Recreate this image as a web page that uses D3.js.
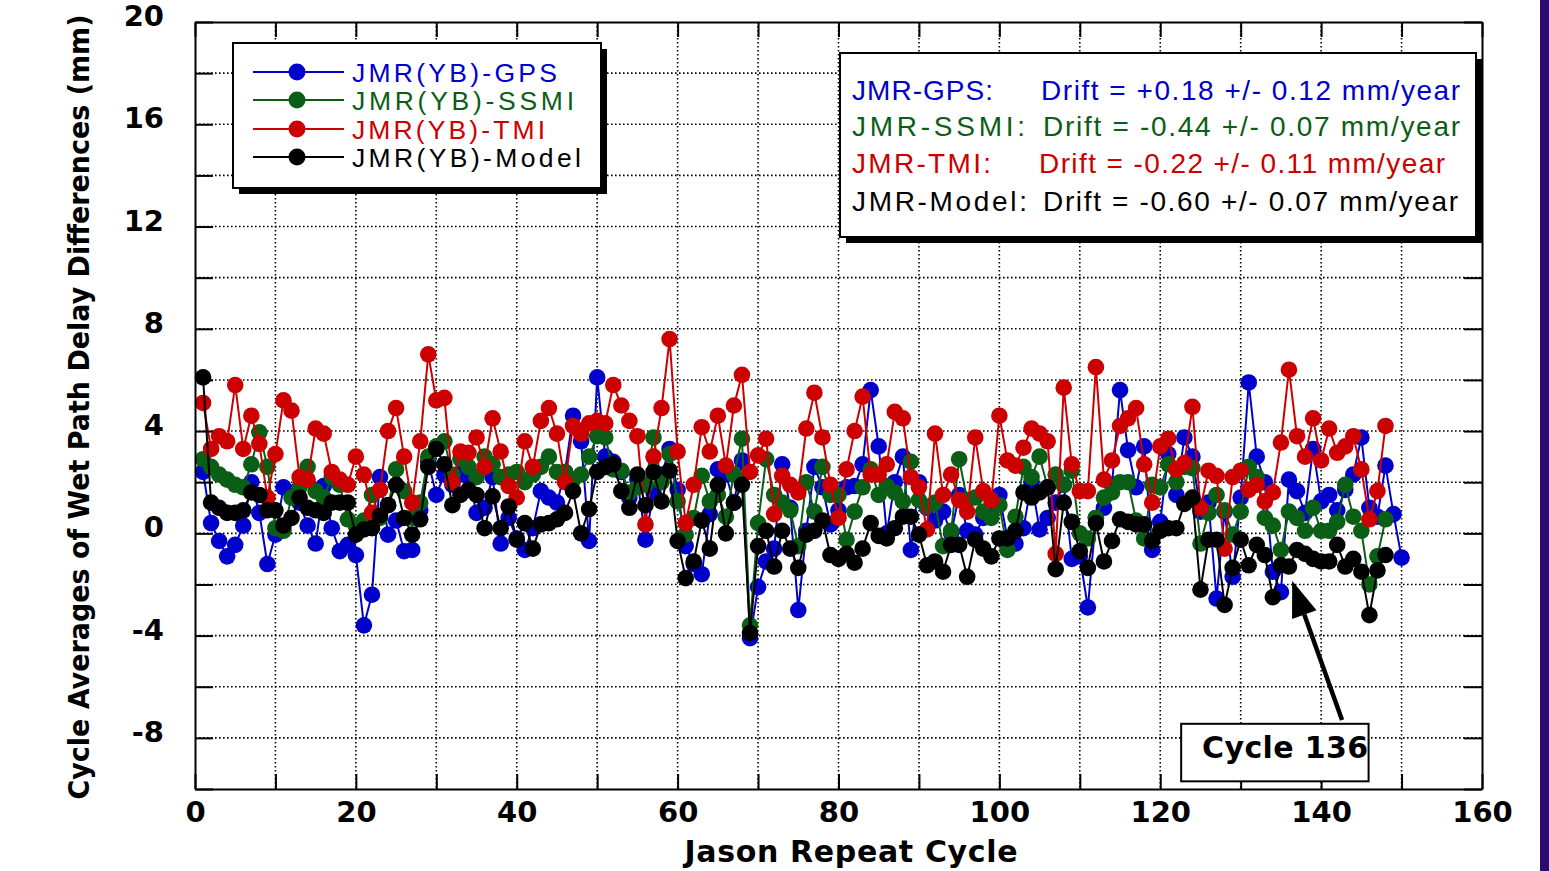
<!DOCTYPE html>
<html>
<head>
<meta charset="utf-8">
<style>
  body { margin: 0; background: #fff; }
  svg { display: block; }
</style>
</head>
<body>
<script src="https://cdn.jsdelivr.net/npm/d3@7"></script>
<script>
// cycle averages, first value = cycle 1
const gps = [2.4,0.4,-0.3,-0.9,-0.45,0.3,2.0,0.8,-1.2,-0.05,
  1.8,1.6,1.2,0.3,-0.4,1.85,0.2,-0.7,-0.45,-0.85,
  -3.6,-2.4,2.2,-0.05,0.5,-0.7,-0.65,0.9,2.8,1.5,
  2.3,1.9,2.3,2.2,0.8,1.0,2.2,-0.4,0.6,-0.2,
  -0.65,0.2,1.65,1.4,1.2,2.4,4.6,3.6,-0.3,6.1,
  3.0,2.8,2.4,1.4,2.1,-0.25,1.6,2.3,3.3,1.7,
  -0.5,-1.2,-1.6,0.75,2.5,2.3,1.2,2.85,-4.1,-2.1,
  -1.1,-0.6,2.7,1.0,-3.0,0.1,2.6,1.8,0.35,0.9,
  1.8,1.85,2.7,5.6,3.4,0.0,2.0,3.0,-0.65,2.0,
  1.0,0.5,0.85,0.0,1.5,0.1,-0.05,0.6,0.9,1.5,
  -0.2,-0.4,0.2,2.0,0.15,0.6,1.2,1.9,-1.0,-0.9,
  -2.9,0.6,1.0,1.9,5.6,3.25,1.8,3.4,-0.65,0.45,
  3.1,1.5,3.75,3.0,0.85,1.2,-2.55,0.85,-1.7,1.4,
  5.9,3.0,2.0,-1.5,-2.3,2.1,1.65,0.8,3.3,1.25,
  1.5,0.9,1.7,2.3,3.75,1.0,0.65,2.65,0.75,-0.95];

const ssmi = [2.9,2.6,2.3,2.1,1.9,1.8,2.7,3.95,2.6,0.2,
  0.1,1.4,1.8,2.6,1.65,1.4,2.2,1.9,0.55,0.3,
  0.5,1.5,0.6,1.1,2.5,1.65,0.6,1.2,3.0,3.4,
  3.6,2.3,2.9,2.6,2.2,3.0,2.7,2.2,2.3,2.4,
  2.0,2.3,2.6,3.0,2.4,2.4,2.1,2.3,3.0,3.8,
  3.75,2.5,2.45,1.6,1.8,1.9,3.75,2.0,3.1,1.25,
  -0.05,0.6,2.25,1.25,1.5,0.65,2.3,3.7,-3.6,0.4,
  2.9,1.5,1.2,0.9,-0.5,2.0,0.85,2.6,1.5,1.5,
  -0.25,0.85,1.8,2.5,1.5,1.85,1.6,1.25,2.8,1.3,
  1.05,1.2,-0.5,0.1,2.9,1.3,1.4,0.85,0.6,1.1,
  -0.65,0.65,2.6,2.2,3.0,1.8,2.3,1.9,2.45,0.0,
  -0.2,0.6,1.4,1.6,2.0,2.0,0.5,-0.2,1.9,1.8,
  2.7,2.0,2.6,2.55,-0.4,0.8,1.5,0.9,-0.05,0.85,
  2.6,2.2,0.6,0.3,-0.65,0.85,0.6,0.1,1.0,0.1,
  0.1,0.45,1.9,0.65,0.1,-2.0,-0.9,0.55];

const tmi = [5.1,3.3,3.8,3.6,5.8,3.3,4.6,3.5,1.4,3.1,
  5.2,4.8,2.2,2.1,4.1,3.9,2.4,2.1,1.9,3.0,
  2.3,0.8,1.7,4.0,4.9,3.0,1.2,3.6,7.0,5.2,
  5.3,2.0,3.2,3.15,3.75,2.6,4.5,3.2,1.85,1.4,
  3.6,2.6,4.4,4.9,3.9,2.0,4.2,3.9,4.3,4.4,
  4.3,5.8,5.0,4.4,3.8,0.35,3.0,4.9,7.6,3.2,
  0.4,1.9,4.15,3.2,4.6,2.65,5.0,6.2,2.4,3.05,
  3.7,0.75,2.25,1.9,1.6,4.1,5.5,3.75,1.9,0.6,
  2.5,4.0,5.35,2.3,2.3,2.7,4.75,4.5,2.2,1.8,
  0.15,3.9,1.5,2.3,1.3,0.85,3.75,1.65,1.3,4.6,
  2.85,2.65,3.35,4.1,3.9,3.6,-0.8,5.7,2.7,1.65,
  1.65,6.5,2.1,2.85,4.2,4.5,4.9,2.7,1.2,3.4,
  3.7,2.5,2.75,4.95,1.0,2.45,2.25,-0.6,2.2,2.45,
  1.7,1.9,1.25,1.6,3.55,6.4,3.8,3.0,4.5,2.85,
  4.1,3.15,3.4,3.8,2.5,0.55,1.65,4.2];

const model = [6.1,1.2,1.0,0.8,0.8,0.9,1.6,1.5,0.9,0.9,
  0.3,0.6,1.4,1.0,0.9,0.8,1.2,1.2,1.2,-0.05,
  0.15,0.2,0.7,1.1,1.9,0.6,-0.05,0.55,2.6,3.3,
  2.7,1.1,1.5,1.7,1.5,0.2,1.45,0.2,1.05,-0.25,
  0.4,-0.6,0.35,0.4,0.55,0.8,1.65,0.0,0.95,2.4,
  2.6,2.7,1.65,1.0,2.3,1.1,2.4,1.25,2.45,-0.3,
  -1.75,-1.1,0.5,-0.6,1.9,0.0,1.2,1.9,-3.9,-0.5,
  0.1,-1.3,0.1,-0.6,-1.35,-0.05,0.1,0.5,-0.85,-1.0,
  -0.8,-1.15,-0.6,0.4,-0.1,-0.2,0.2,0.65,0.65,-0.05,
  -1.25,-1.1,-1.5,-0.45,-0.45,-1.7,-0.25,-0.6,-0.9,-0.2,
  -0.2,0.1,1.6,1.4,1.6,1.8,-1.4,1.2,0.45,-0.7,
  -1.35,0.4,-1.1,-0.3,0.55,0.45,0.35,0.35,-0.3,0.1,
  0.2,0.2,1.15,1.4,-2.2,-0.25,-0.25,-2.8,-1.35,-0.25,
  -1.25,-0.45,-0.85,-2.5,-1.25,-1.3,-0.65,-0.8,-1.0,-1.1,
  -1.1,-0.45,-1.3,-1.0,-1.5,-3.2,-1.45,-0.85];

const seriesNames = ["JMR(YB)-GPS", "JMR(YB)-SSMI", "JMR(YB)-TMI", "JMR(YB)-Model"];
const driftLabels = ["JMR-GPS:", "JMR-SSMI:", "JMR-TMI:", "JMR-Model:"];
const driftTexts = ["Drift = +0.18 +/- 0.12 mm/year",
                    "Drift = -0.44 +/- 0.07 mm/year",
                    "Drift = -0.22 +/- 0.11 mm/year",
                    "Drift = -0.60 +/- 0.07 mm/year"];
const xTickLabels = [0, 20, 40, 60, 80, 100, 120, 140, 160];
const yTickLabels = [-8, -4, 0, 4, 8, 12, 16, 20];
const calloutText = "Cycle 136";

const colors = ["#0000cc", "#0b5e16", "#cc0000", "#000000"];
const series = [gps, ssmi, tmi, model];

let width = 1549, height = 871,
    margin = {top: 22, right: 67, bottom: 82, left: 195};

let svg = d3.select("body")
            .append("svg")
            .attr("width", width)
            .attr("height", height);

let x = d3.scaleLinear().domain([0, 160]).range([margin.left, width - margin.right]);
let y = d3.scaleLinear().domain([-10, 20]).range([height - margin.bottom, margin.top]);

// purple edge strip on the right
svg.append("rect")
    .attr("x", 1540).attr("y", 0)
    .attr("width", 9).attr("height", height)
    .attr("fill", "#2c0b6c");

// dotted grid
let grid = svg.append("g")
    .attr("stroke", "#000")
    .attr("stroke-width", 1.6)
    .attr("stroke-dasharray", "1.6,2.4");

grid.selectAll(".vg")
    .data(d3.range(10, 160, 10))
    .enter().append("line")
        .attr("x1", d => x(d)).attr("x2", d => x(d))
        .attr("y1", y(20)).attr("y2", y(-10));

grid.selectAll(".hg")
    .data(d3.range(-8, 20, 2))
    .enter().append("line")
        .attr("y1", d => y(d)).attr("y2", d => y(d))
        .attr("x1", x(0)).attr("x2", x(160));

// the four series: line first then markers
let line = d3.line()
    .x((d, i) => x(i + 1))
    .y(d => y(d));

series.forEach((vals, k) => {
    let g = svg.append("g");
    g.append("path")
        .attr("d", line(vals))
        .attr("fill", "none")
        .attr("stroke", colors[k])
        .attr("stroke-width", 2);
    g.selectAll("circle")
        .data(vals)
        .enter().append("circle")
            .attr("cx", (d, i) => x(i + 1))
            .attr("cy", d => y(d))
            .attr("r", 8.3)
            .attr("fill", colors[k]);
});

// axes
const fontBold = "'DejaVu Sans', sans-serif";

function styleAxis(sel) {
    sel.selectAll("path, line").attr("stroke", "#000").attr("stroke-width", 2);
    sel.attr("font-family", fontBold).attr("font-size", 29).attr("font-weight", "bold");
    sel.selectAll("text").attr("fill", "#000");
}

svg.append("g")
    .attr("transform", `translate(0, ${y(-10)})`)
    .call(d3.axisBottom(x)
        .tickValues(d3.range(0, 161, 10))
        .tickSize(-15).tickSizeOuter(0).tickPadding(12)
        .tickFormat(d => xTickLabels.includes(d) ? d : ""))
    .call(styleAxis);

svg.append("g")
    .attr("transform", `translate(0, ${y(20)})`)
    .call(d3.axisTop(x)
        .tickValues(d3.range(0, 161, 10))
        .tickSize(-15).tickSizeOuter(0)
        .tickFormat(""))
    .call(styleAxis);

svg.append("g")
    .attr("transform", `translate(${x(0)}, 0)`)
    .call(d3.axisLeft(y)
        .tickValues(d3.range(-10, 21, 2))
        .tickSize(-18).tickSizeOuter(0).tickPadding(31)
        .tickFormat(d => yTickLabels.includes(d) ? d : ""))
    .call(styleAxis)
    .selectAll("text").attr("dy", "0.12em");

svg.append("g")
    .attr("transform", `translate(${x(160)}, 0)`)
    .call(d3.axisRight(y)
        .tickValues(d3.range(-10, 21, 2))
        .tickSize(-18).tickSizeOuter(0)
        .tickFormat(""))
    .call(styleAxis);

// axis titles
svg.append("text")
    .attr("x", 851).attr("y", 862)
    .attr("text-anchor", "middle")
    .attr("font-family", fontBold).attr("font-weight", "bold")
    .attr("font-size", 30)
    .attr("textLength", 333)
    .text("Jason Repeat Cycle");

svg.append("text")
    .attr("transform", "translate(89, 407) rotate(-90)")
    .attr("text-anchor", "middle")
    .attr("font-family", fontBold).attr("font-weight", "bold")
    .attr("font-size", 27.5)
    .attr("textLength", 785)
    .attr("lengthAdjust", "spacingAndGlyphs")
    .text("Cycle Averages of Wet Path Delay Differences (mm)");

// legend box
const fontReg = "'Liberation Sans', Arial, sans-serif";
let legend = svg.append("g");
legend.append("rect")
    .attr("x", 239).attr("y", 49).attr("width", 368).attr("height", 145)
    .attr("fill", "#000");
legend.append("rect")
    .attr("x", 233).attr("y", 43).attr("width", 368).attr("height", 145)
    .attr("fill", "#fff").attr("stroke", "#000").attr("stroke-width", 2);

const legendRowY = [72, 100, 129, 157];
const legendTextLen = [205, 222, 193, 229];
seriesNames.forEach((name, k) => {
    let ly = legendRowY[k];
    legend.append("line")
        .attr("x1", 253).attr("x2", 344)
        .attr("y1", ly).attr("y2", ly)
        .attr("stroke", colors[k]).attr("stroke-width", 2);
    legend.append("circle")
        .attr("cx", 297).attr("cy", ly).attr("r", 8.5)
        .attr("fill", colors[k]);
    legend.append("text")
        .attr("x", 352).attr("y", ly + 9.5)
        .attr("font-family", fontReg).attr("font-size", 26.5)
        .attr("fill", colors[k])
        .attr("textLength", legendTextLen[k])
        .text(name);
});

// drift box
let drift = svg.append("g");
drift.append("rect")
    .attr("x", 846).attr("y", 59).attr("width", 636).attr("height", 184)
    .attr("fill", "#000");
drift.append("rect")
    .attr("x", 840).attr("y", 53).attr("width", 636).attr("height", 184)
    .attr("fill", "#fff").attr("stroke", "#000").attr("stroke-width", 2);

const driftRowY = [100, 136, 173, 211];
const driftLabelLen = [141, 173, 139, 175];
const driftX = [1041, 1043, 1039, 1043];
const driftLen = [419, 417, 406, 415];
driftTexts.forEach((t, k) => {
    drift.append("text")
        .attr("x", 852).attr("y", driftRowY[k])
        .attr("font-family", fontReg).attr("font-size", 28)
        .attr("fill", colors[k])
        .attr("textLength", driftLabelLen[k])
        .text(driftLabels[k]);
    drift.append("text")
        .attr("x", driftX[k]).attr("y", driftRowY[k])
        .attr("font-family", fontReg).attr("font-size", 28)
        .attr("fill", colors[k])
        .attr("textLength", driftLen[k])
        .text(t);
});

// "Cycle 136" callout with arrow
let callout = svg.append("g");
callout.append("rect")
    .attr("x", x(122.6)).attr("y", y(-7.45))
    .attr("width", x(145.9) - x(122.6)).attr("height", y(-9.7) - y(-7.45))
    .attr("fill", "#fff").attr("stroke", "#000").attr("stroke-width", 2);
callout.append("text")
    .attr("x", x(125.2)).attr("y", y(-8.8))
    .attr("font-family", fontBold).attr("font-weight", "bold")
    .attr("font-size", 30)
    .attr("textLength", 166)
    .text(calloutText);

let tail = [x(142.6), y(-7.3)],
    tip = [x(136.4), y(-1.85)];
let ang = Math.atan2(tip[1] - tail[1], tip[0] - tail[0]);
let headLen = 36, headHalf = 13;
let base = [tip[0] - headLen * Math.cos(ang), tip[1] - headLen * Math.sin(ang)];
callout.append("line")
    .attr("x1", tail[0]).attr("y1", tail[1])
    .attr("x2", base[0]).attr("y2", base[1])
    .attr("stroke", "#000").attr("stroke-width", 4.5);
callout.append("polygon")
    .attr("points", [
        tip,
        [base[0] + headHalf * Math.sin(ang), base[1] - headHalf * Math.cos(ang)],
        [base[0] - headHalf * Math.sin(ang), base[1] + headHalf * Math.cos(ang)]
    ].map(p => p.join(",")).join(" "))
    .attr("fill", "#000");
</script>
</body>
</html>
